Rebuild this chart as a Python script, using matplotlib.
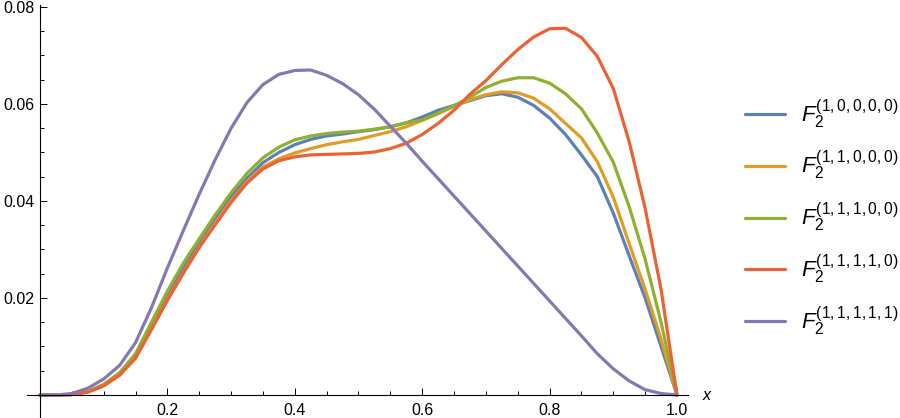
import matplotlib
matplotlib.use("Agg")
import matplotlib.pyplot as plt
from matplotlib.ticker import MultipleLocator

plt.rcParams["font.family"] = ["Liberation Sans", "DejaVu Sans"]
plt.rcParams["mathtext.fontset"] = "custom"
plt.rcParams["mathtext.rm"] = "Liberation Sans"
plt.rcParams["mathtext.it"] = "Liberation Sans:italic"

x = [0.0, 0.025, 0.05, 0.075, 0.1, 0.125, 0.15, 0.175, 0.2, 0.225,
     0.25, 0.275, 0.3, 0.325, 0.35, 0.375, 0.4, 0.425, 0.45, 0.475,
     0.5, 0.525, 0.55, 0.575, 0.6, 0.625, 0.65, 0.675, 0.7, 0.725,
     0.75, 0.775, 0.8, 0.825, 0.85, 0.875, 0.9, 0.925, 0.95, 0.975, 1.0]

f_10000 = [0, 0, 0.0001, 0.0007, 0.0021, 0.0044, 0.0081, 0.0146, 0.0206, 0.0263,
           0.0316, 0.0365, 0.0410, 0.0447, 0.0479, 0.0500, 0.0516, 0.0527, 0.0534, 0.0538,
           0.0543, 0.0547, 0.0553, 0.0561, 0.0573, 0.0587, 0.0597, 0.0607, 0.0617, 0.0621,
           0.0614, 0.0597, 0.0571, 0.0537, 0.0495, 0.0450, 0.0375, 0.0287, 0.0200, 0.0100, 0]
f_11000 = [0, 0, 0.0001, 0.0006, 0.0019, 0.0041, 0.0077, 0.0137, 0.0197, 0.0253,
           0.0306, 0.0354, 0.0400, 0.0440, 0.0470, 0.0487, 0.0499, 0.0508, 0.0516, 0.0522,
           0.0527, 0.0535, 0.0543, 0.0553, 0.0566, 0.0580, 0.0595, 0.0609, 0.0619, 0.0625,
           0.0623, 0.0612, 0.0590, 0.0560, 0.0530, 0.0481, 0.0408, 0.0312, 0.0218, 0.0115, 0]
f_11100 = [0, 0, 0.0001, 0.0007, 0.0022, 0.0046, 0.0085, 0.0150, 0.0214, 0.0272,
           0.0322, 0.0371, 0.0417, 0.0457, 0.0489, 0.0511, 0.0526, 0.0534, 0.0539, 0.0542,
           0.0544, 0.0548, 0.0553, 0.0561, 0.0567, 0.0581, 0.0596, 0.0614, 0.0634, 0.0647,
           0.0654, 0.0654, 0.0643, 0.0621, 0.0590, 0.0540, 0.0480, 0.0388, 0.0280, 0.0150, 0]
f_11110 = [0, 0, 0.0001, 0.0006, 0.0019, 0.0041, 0.0076, 0.0135, 0.0195, 0.0251,
           0.0304, 0.0351, 0.0397, 0.0437, 0.0466, 0.0483, 0.0491, 0.0495, 0.0496, 0.0497,
           0.0498, 0.0501, 0.0508, 0.0519, 0.0537, 0.0560, 0.0587, 0.0620, 0.0648, 0.0681,
           0.0712, 0.0738, 0.0755, 0.0756, 0.0737, 0.0698, 0.0632, 0.0522, 0.0385, 0.0218, 0]
f_11111 = [0, 0, 0.0003, 0.0014, 0.0033, 0.0061, 0.0108, 0.0180, 0.0262, 0.0339,
           0.0414, 0.0485, 0.0550, 0.0603, 0.0640, 0.0661, 0.0669, 0.0670, 0.0659, 0.0642,
           0.0619, 0.0589, 0.0554, 0.0519, 0.0482, 0.0446, 0.0410, 0.0374, 0.0338, 0.0302,
           0.0266, 0.0230, 0.0194, 0.0158, 0.0122, 0.0085, 0.0054, 0.0029, 0.0011, 0.0003, 0]

labels = ["(1,0,0,0,0)", "(1,1,0,0,0)", "(1,1,1,0,0)", "(1,1,1,1,0)", "(1,1,1,1,1)"]
colors = ["#5E81B5", "#E19C24", "#8FB032", "#EB6235", "#8778B3"]
series = [f_10000, f_11000, f_11100, f_11110, f_11111]

x_ticks = [0.2, 0.4, 0.6, 0.8, 1.0]
y_ticks = [0.02, 0.04, 0.06, 0.08]

fig = plt.figure(figsize=(9, 4.18), dpi=100)
ax = fig.add_axes([27 / 900, 0.0, 661 / 900, 413 / 418])

for ys, lab, col in zip(series, labels, colors):
    ax.plot(x, ys, color=col, linewidth=2.3, label=r"$F_2^{" + lab + "}$",
            solid_capstyle="round", solid_joinstyle="round")

ax.set_xlim(-0.0204, 1.0173)
ax.set_ylim(-0.00474, 0.0804)

# Mathematica-style axes crossing at the origin
for side in ("top", "right"):
    ax.spines[side].set_visible(False)
ax.spines["left"].set_position(("data", 0))
ax.spines["bottom"].set_position(("data", 0))
for side in ("left", "bottom"):
    ax.spines[side].set_linewidth(0.8)
    ax.spines[side].set_color("black")

ax.set_xticks(x_ticks)
ax.set_xticklabels([f"{v:.1f}" for v in x_ticks])
ax.set_yticks(y_ticks)
ax.set_yticklabels([f"{v:.2f}" for v in y_ticks])
ax.xaxis.set_minor_locator(MultipleLocator(0.05))
ax.yaxis.set_minor_locator(MultipleLocator(0.005))
ax.tick_params(which="both", direction="in", width=0.7, colors="black", labelsize=11.5)
ax.tick_params(which="major", length=5)
ax.tick_params(which="minor", length=3)
ax.tick_params(axis="x", pad=6)
ax.tick_params(axis="y", pad=4)

ax.set_xlabel("x", style="italic", fontsize=11.5, ha="left", va="center")
ax.xaxis.set_label_coords(1.022, 22 / 413)

ax.legend(loc="upper left", bbox_to_anchor=(745 / 900, 1 - 97 / 418),
          bbox_transform=fig.transFigure, frameon=False, fontsize=16,
          handlelength=1.8, handletextpad=0.7, labelspacing=0.82,
          borderpad=0, borderaxespad=0)

fig.savefig("out.png", dpi=100)
